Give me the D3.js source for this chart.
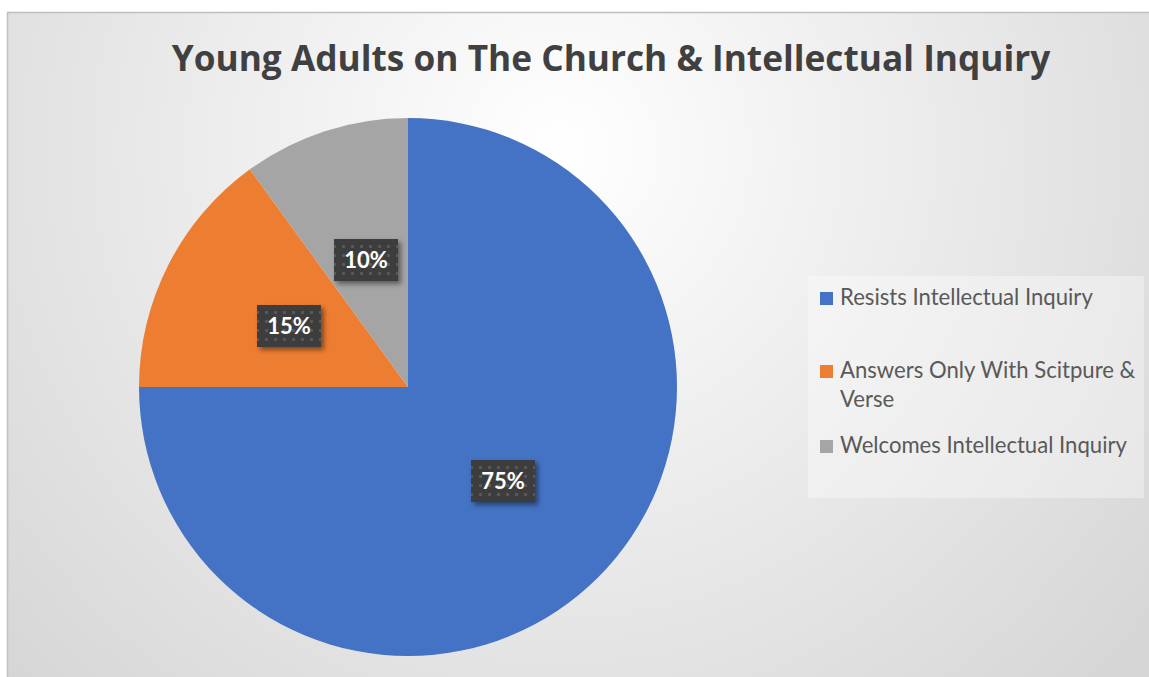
<!DOCTYPE html>
<html>
<head>
<meta charset="utf-8">
<script src="https://cdn.jsdelivr.net/npm/d3@7"></script>
<style>
  html, body { margin: 0; padding: 0; background: #ffffff; }
  svg { display: block; }
</style>
</head>
<body>
<script>
// Survey shares
const categories = ["Resists Intellectual Inquiry", "Answers Only With Scitpure & Verse", "Welcomes Intellectual Inquiry"];
const values = [75, 15, 10];
const valueLabels = ["75%", "15%", "10%"];
const colors = ["#4472c4", "#ed7d31", "#a5a5a5"];
const legendLines = [["Resists Intellectual Inquiry"], ["Answers Only With Scitpure &", "Verse"], ["Welcomes Intellectual Inquiry"]];
const title = "Young Adults on The Church & Intellectual Inquiry";

const W = 1149, H = 677;
const FONT = "'Open Sans', 'Noto Sans', sans-serif";
const LFONT = "Lato, 'Open Sans', sans-serif";

const svg = d3.select("body").append("svg").attr("width", W).attr("height", H);
const defs = svg.append("defs");

// chart area background
const bg = defs.append("radialGradient").attr("id", "bgGrad")
  .attr("gradientUnits", "userSpaceOnUse")
  .attr("cx", 560).attr("cy", 150).attr("r", 760);
bg.append("stop").attr("offset", "0%").attr("stop-color", "#ffffff");
bg.append("stop").attr("offset", "100%").attr("stop-color", "#d6d6d6");

// dotted pattern for data label boxes
const pat = defs.append("pattern").attr("id", "dots")
  .attr("patternUnits", "userSpaceOnUse").attr("width", 9).attr("height", 9);
pat.append("rect").attr("width", 9).attr("height", 9).attr("fill", "#3e3e3e");
pat.append("rect").attr("x", 3).attr("y", 3).attr("width", 3).attr("height", 3).attr("fill", "#595959");

const sh = defs.append("filter").attr("id", "shadow")
  .attr("x", "-30%").attr("y", "-30%").attr("width", "160%").attr("height", "160%");
sh.append("feDropShadow").attr("dx", 3).attr("dy", 3).attr("stdDeviation", 2.5)
  .attr("flood-color", "#000").attr("flood-opacity", 0.45);

svg.append("rect").attr("x", 7.5).attr("y", 12.5).attr("width", W).attr("height", H)
  .attr("fill", "url(#bgGrad)").attr("stroke", "#bfbfbf").attr("stroke-width", 1.5);

// title, sized to its span
const t = svg.append("text").attr("x", 611).attr("y", 71)
  .attr("text-anchor", "middle").attr("font-family", FONT).attr("font-weight", 700)
  .attr("font-size", 36).attr("fill", "#404040").text(title);
const tw = t.node().getComputedTextLength();
t.attr("font-size", 36 * 879 / tw);

// pie
const cx = 408, cy = 387, R = 269;
const pie = d3.pie().sort(null).value(d => d)(values);
const arc = d3.arc().innerRadius(0).outerRadius(R);
const g = svg.append("g").attr("transform", `translate(${cx},${cy})`);
g.selectAll("path").data(pie).join("path")
  .attr("d", arc).attr("fill", (d, i) => colors[i]);

// data labels
const labelPos = [[95, 94], [-119, -61], [-42, -127]];
const lab = g.selectAll("g.lab").data(pie).join("g").attr("class", "lab")
  .attr("transform", (d, i) => `translate(${labelPos[i][0]},${labelPos[i][1]})`);
lab.append("rect").attr("x", -32).attr("y", -21).attr("width", 64).attr("height", 42)
  .attr("fill", "url(#dots)").attr("filter", "url(#shadow)");
lab.append("text").attr("text-anchor", "middle").attr("y", 8)
  .attr("font-family", LFONT).attr("font-weight", 700).attr("font-size", 22)
  .attr("fill", "#ffffff").text((d, i) => valueLabels[i]);

// legend
const leg = svg.append("g");
leg.append("rect").attr("x", 808).attr("y", 276).attr("width", 336).attr("height", 222)
  .attr("fill", "#ffffff").attr("fill-opacity", 0.35);
const baseY = [305, 378, 453];
const items = leg.selectAll("g.item").data(categories).join("g").attr("class", "item")
  .attr("transform", (d, i) => `translate(820,${baseY[i]})`);
items.append("rect").attr("x", 0).attr("y", -13).attr("width", 13).attr("height", 13)
  .attr("fill", (d, i) => colors[i]);
const lt = items.append("text").attr("x", 20).attr("y", 0)
  .attr("font-family", LFONT).attr("font-size", 19).attr("fill", "#595959");
lt.selectAll("tspan").data((d, i) => legendLines[i]).join("tspan")
  .attr("x", 20).attr("y", (d, j) => j * 29).text(d => d);
const lw = lt.nodes()[0].getComputedTextLength();
lt.attr("font-size", 19 * 253 / lw);
</script>
</body>
</html>
